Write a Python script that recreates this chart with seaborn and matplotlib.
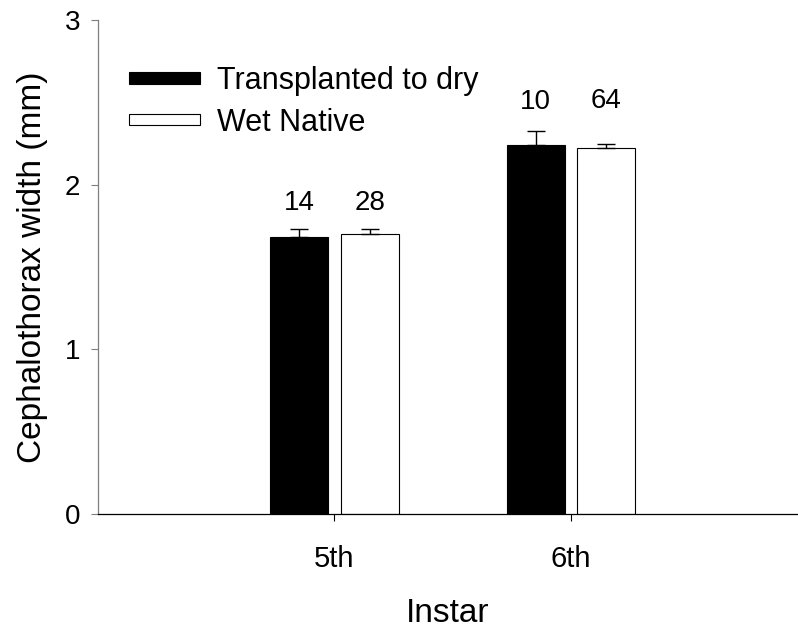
import matplotlib
matplotlib.use("Agg")
import matplotlib.pyplot as plt
import seaborn as sns
import pandas as pd

# ---- data ----
instars = ["5th", "6th"]
groups = ["Transplanted to dry", "Wet Native"]
transplanted_mean = [1.68, 2.24]
transplanted_se = [0.05, 0.085]
wet_mean = [1.70, 2.22]
wet_se = [0.03, 0.03]
transplanted_n = [14, 10]
wet_n = [28, 64]

# label heights (data units) for the sample sizes
transplanted_label_y = [1.89, 2.50]
wet_label_y = [1.89, 2.51]

sns.set_theme(style="white")
plt.rcParams["font.family"] = ["Liberation Sans", "DejaVu Sans"]
plt.rcParams["text.color"] = "black"
plt.rcParams["axes.labelcolor"] = "black"
plt.rcParams["xtick.color"] = "black"
plt.rcParams["ytick.color"] = "black"

df = pd.DataFrame({
    "Instar": instars * 2,
    "Group": [groups[0]] * len(instars) + [groups[1]] * len(instars),
    "Width": transplanted_mean + wet_mean,
})

fig = plt.figure(figsize=(7.98, 6.32), dpi=100)
ax = fig.add_axes([98 / 798, 1 - 514 / 632, 1 - 98 / 798, (514 - 20) / 632])

sns.barplot(data=df, x="Instar", y="Width", hue="Group", order=instars,
            hue_order=groups, palette=["black", "white"], width=0.596, gap=0.175,
            edgecolor="black", linewidth=0.8, errorbar=None, ax=ax)

ses = [transplanted_se, wet_se]
ns = [transplanted_n, wet_n]
label_ys = [transplanted_label_y, wet_label_y]
for cont, se, n, ly in zip(ax.containers, ses, ns, label_ys):
    xs = [b.get_x() + b.get_width() / 2 for b in cont]
    tops = [b.get_height() for b in cont]
    ax.errorbar(xs, tops, yerr=[[0] * len(se), se], fmt="none", ecolor="black",
                elinewidth=1.0, capsize=6.5, capthick=1.0, zorder=3)
    for x, val, y in zip(xs, n, ly):
        ax.text(x, y, str(val), ha="center", va="center", fontsize=20, color="black")

handles, labels = ax.get_legend_handles_labels()
ax.legend(handles, labels, frameon=False, fontsize=22, handlelength=2.32,
          handleheight=0.22, handletextpad=0.55, labelspacing=0.38,
          borderpad=0, borderaxespad=0, loc="upper left", labelcolor="black",
          bbox_to_anchor=(129 / 798, 1 - 66 / 632), bbox_transform=fig.transFigure)

ax.set_xlim(-1.0, 1.96)
ax.set_ylim(0, 3)
ax.set_yticks([0, 1, 2, 3])
ax.set_yticklabels(["0", "1", "2", "3"])

sns.despine(ax=ax, top=True, right=True)
ax.spines["left"].set_color("#7f7f7f")
ax.spines["left"].set_linewidth(0.9)
ax.spines["bottom"].set_color("black")
ax.spines["bottom"].set_linewidth(0.9)

ax.tick_params(axis="both", which="major", bottom=True, left=True, direction="out",
               length=5, width=0.8, labelsize=20, labelcolor="black")
ax.tick_params(axis="y", pad=8, color="#7f7f7f")
ax.tick_params(axis="x", pad=17, color="black", labelsize=21)

ax.set_xlabel("Instar", fontsize=24, labelpad=18)
ax.set_ylabel("Cephalothorax width (mm)", fontsize=24, labelpad=12)

fig.savefig("out.png", dpi=100)
